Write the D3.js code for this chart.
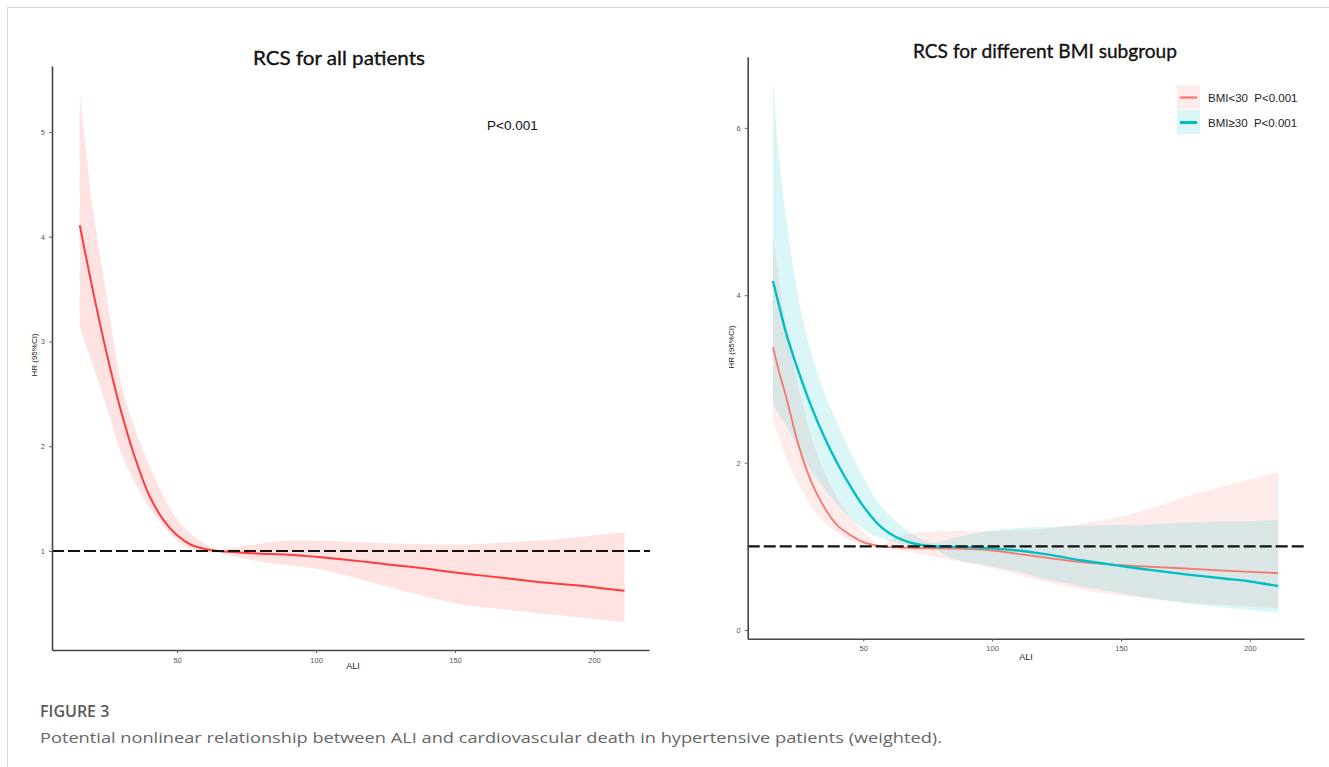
<!DOCTYPE html>
<html>
<head>
<meta charset="utf-8">
<script src="https://cdn.jsdelivr.net/npm/d3@7"></script>
<style>
  html, body { margin: 0; padding: 0; background: #ffffff; }
  svg { display: block; }
</style>
</head>
<body>
<div id="chart"></div>
<script>
// --- データ: 全患者 ---
const aliAll = [15, 20, 25, 30, 35, 40, 45, 50, 55, 60, 65, 70, 80, 90, 100, 110, 120, 130, 140, 150, 160, 170, 180, 190, 200, 211];
const hrAll  = [4.11, 3.45, 2.85, 2.32, 1.88, 1.53, 1.30, 1.15, 1.06, 1.02, 1.00, 0.99, 0.975, 0.965, 0.945, 0.92, 0.89, 0.86, 0.83, 0.795, 0.765, 0.735, 0.705, 0.68, 0.655, 0.62];
const upAll  = [5.38, 4.22, 3.38, 2.58, 2.15, 1.82, 1.53, 1.30, 1.16, 1.07, 1.01, 1.03, 1.07, 1.10, 1.10, 1.09, 1.08, 1.07, 1.065, 1.06, 1.07, 1.085, 1.10, 1.12, 1.15, 1.18];
const lowAll = [3.14, 2.75, 2.35, 1.93, 1.64, 1.42, 1.24, 1.10, 1.02, 0.99, 0.985, 0.95, 0.90, 0.865, 0.83, 0.77, 0.70, 0.63, 0.56, 0.50, 0.465, 0.435, 0.405, 0.38, 0.35, 0.32];

// --- データ: BMIサブグループ ---
const aliSub = [15, 17.5, 20, 25, 30, 35, 40, 45, 50, 55, 57, 60, 65, 70, 77, 85, 100, 110, 122, 135, 150, 162, 175, 190, 200, 211];
const hrLow  = [3.38, 3.07, 2.80, 2.20, 1.76, 1.46, 1.25, 1.135, 1.05, 1.01, 1.0, 0.99, 0.985, 0.98, 0.976, 0.972, 0.95, 0.91, 0.86, 0.81, 0.775, 0.755, 0.735, 0.71, 0.695, 0.68];
const upLow  = [4.70, 4.15, 3.65, 2.90, 2.30, 1.88, 1.58, 1.35, 1.17, 1.04, 1.0, 1.07, 1.13, 1.16, 1.175, 1.185, 1.18, 1.19, 1.215, 1.27, 1.355, 1.46, 1.59, 1.72, 1.80, 1.89];
const lowLow = [2.51, 2.28, 2.07, 1.74, 1.47, 1.28, 1.16, 1.07, 1.02, 1.0, 0.995, 0.98, 0.955, 0.92, 0.88, 0.83, 0.74, 0.66, 0.57, 0.48, 0.41, 0.37, 0.33, 0.30, 0.28, 0.26];
const hrHigh  = [4.17, 3.86, 3.56, 3.08, 2.66, 2.30, 1.99, 1.72, 1.48, 1.29, 1.23, 1.16, 1.08, 1.03, 1.0, 0.993, 0.975, 0.95, 0.90, 0.83, 0.765, 0.715, 0.665, 0.615, 0.58, 0.525];
const upHigh  = [6.57, 5.60, 4.95, 3.95, 3.30, 2.83, 2.47, 2.14, 1.83, 1.56, 1.48, 1.38, 1.24, 1.13, 1.04, 1.10, 1.19, 1.22, 1.23, 1.245, 1.255, 1.265, 1.28, 1.295, 1.30, 1.31];
const lowHigh = [2.69, 2.57, 2.45, 2.17, 1.90, 1.68, 1.50, 1.34, 1.21, 1.12, 1.10, 1.065, 1.025, 1.0, 0.975, 0.855, 0.76, 0.70, 0.60, 0.52, 0.44, 0.38, 0.32, 0.27, 0.24, 0.205];

// --- 目盛り ---
const xTicks = [50, 100, 150, 200];
const yTicksAll = [1, 2, 3, 4, 5];
const yTicksSub = [0, 2, 4, 6];
const legendLabels = ["BMI<30  P<0.001", "BMI\u226530  P<0.001"];

const W = 1329, H = 767;
const axisFont = "'Liberation Sans', Arial, sans-serif";
const titleFont = "Lato, 'Open Sans', sans-serif";
const smooth = d3.curveCatmullRom.alpha(0.5);

const svg = d3.select("#chart").append("svg").attr("width", W).attr("height", H);

// 外枠
svg.append("line").attr("x1", 7).attr("y1", 7.5).attr("x2", W).attr("y2", 7.5).attr("stroke", "#d9d9d9");
svg.append("line").attr("x1", 7.5).attr("y1", 7).attr("x2", 7.5).attr("y2", H).attr("stroke", "#d9d9d9");

function rows(xs, mid, lo, hi) {
  return xs.map((a, i) => ({ a: a, m: mid[i], lo: lo[i], hi: hi[i] }));
}

function drawPanel(p) {
  const g = svg.append("g");
  const x = d3.scaleLinear().domain(p.xDomain).range(p.xRange);
  const y = d3.scaleLinear().domain(p.yDomain).range(p.yRange);

  // リボン
  p.series.forEach(s => {
    const area = d3.area().curve(smooth)
      .x(d => x(d.a)).y0(d => y(d.lo)).y1(d => y(d.hi));
    g.append("path").datum(s.data).attr("d", area)
      .attr("fill", s.fill).attr("fill-opacity", s.fillOpacity);
  });
  // 推定線
  p.series.forEach(s => {
    const line = d3.line().curve(smooth).x(d => x(d.a)).y(d => y(d.m));
    g.append("path").datum(s.data).attr("d", line)
      .attr("fill", "none").attr("stroke", s.color).attr("stroke-width", s.width);
  });

  // HR=1 の参照線
  g.append("line")
    .attr("x1", p.xRange[0]).attr("x2", p.xRange[1] + 1)
    .attr("y1", y(1)).attr("y2", y(1))
    .attr("stroke", "#111").attr("stroke-width", 2.2).attr("stroke-dasharray", "12,4");

  // 軸
  const xAxis = g.append("g").attr("transform", `translate(0,${p.yRange[0]})`)
    .call(d3.axisBottom(x).tickValues(xTicks).tickFormat(d3.format("d")).tickSize(3).tickSizeOuter(0));
  const yAxis = g.append("g").attr("transform", `translate(${p.xRange[0]},0)`)
    .call(d3.axisLeft(y).tickValues(p.yTicks).tickFormat(d3.format("d")).tickSize(3).tickSizeOuter(0));
  [xAxis, yAxis].forEach(ax => {
    ax.select(".domain").attr("stroke", "#444").attr("stroke-width", 1.6);
    ax.selectAll(".tick line").attr("stroke", "#666");
    ax.selectAll(".tick text").attr("fill", "#555").style("font-size", "7.5px").style("font-family", axisFont);
  });
  xAxis.selectAll(".tick text").attr("dy", "0.9em");
  yAxis.selectAll(".tick text").attr("dx", "-1px");

  // 軸タイトル
  g.append("text").attr("x", p.xLabel[0]).attr("y", p.xLabel[1]).attr("text-anchor", "middle")
    .style("font-family", axisFont).style("font-size", "9px").attr("fill", "#222").text("ALI");
  g.append("text").attr("transform", `translate(${p.yLabel[0]},${p.yLabel[1]}) rotate(-90)`)
    .attr("text-anchor", "middle")
    .style("font-family", axisFont).style("font-size", "8px").attr("fill", "#222").text("HR (95%CI)");

  // タイトル
  g.append("text").attr("x", p.title.x).attr("y", p.title.y)
    .attr("textLength", p.title.w).attr("lengthAdjust", "spacingAndGlyphs")
    .style("font-family", titleFont).style("font-size", "20px").attr("fill", "#111")
    .attr("stroke", "#111").attr("stroke-width", 0.35)
    .text(p.title.text);
  return { g: g, x: x, y: y };
}

// --- 左パネル ---
const left = drawPanel({
  xDomain: [5, 219.8], xRange: [52, 649],
  yDomain: [0.055, 5.63], yRange: [650, 66],
  yTicks: yTicksAll,
  xLabel: [353, 669], yLabel: [37, 355],
  title: { x: 253, y: 65, w: 172, text: "RCS for all patients" },
  series: [{ data: rows(aliAll, hrAll, lowAll, upAll), color: "#ff3b3b", width: 2, fill: "#ff2a2a", fillOpacity: 0.13 }]
});
left.g.append("text").attr("x", 487).attr("y", 130)
  .style("font-family", axisFont).style("font-size", "13.5px").attr("fill", "#111").text("P<0.001");

// --- 右パネル ---
const pink = "#f8766d", cyan = "#00bfc4";
const right = drawPanel({
  xDomain: [5.2, 221], xRange: [747.7, 1304],
  yDomain: [-0.104, 6.85], yRange: [638.7, 56.7],
  yTicks: yTicksSub,
  xLabel: [1026, 660], yLabel: [734, 347],
  title: { x: 913, y: 58, w: 264, text: "RCS for different BMI subgroup" },
  series: [
    { data: rows(aliSub, hrLow, lowLow, upLow), color: pink, width: 1.8, fill: pink, fillOpacity: 0.14 },
    { data: rows(aliSub, hrHigh, lowHigh, upHigh), color: cyan, width: 2.4, fill: cyan, fillOpacity: 0.14 }
  ]
});

// 凡例
const legend = svg.append("g").attr("transform", "translate(1177,85)");
[{ c: pink, w: 2.2 }, { c: cyan, w: 3 }].forEach((k, i) => {
  const row = legend.append("g").attr("transform", `translate(0,${i * 25})`);
  row.append("rect").attr("width", 23).attr("height", 24).attr("fill", k.c).attr("fill-opacity", 0.14);
  row.append("line").attr("x1", 3).attr("x2", 20).attr("y1", 12.5).attr("y2", 12.5)
    .attr("stroke", k.c).attr("stroke-width", k.w);
  row.append("text").attr("x", 31).attr("y", 16.5)
    .style("font-family", axisFont).style("font-size", "11.5px").style("white-space", "pre")
    .attr("fill", "#222")
    .text(legendLabels[i]);
});

// キャプション
svg.append("text").attr("x", 40).attr("y", 717)
  .style("font-family", "'Open Sans', sans-serif").style("font-size", "16px").style("font-weight", 600)
  .attr("fill", "#595959").text("FIGURE 3");
svg.append("text").attr("x", 40).attr("y", 743)
  .attr("textLength", 902).attr("lengthAdjust", "spacingAndGlyphs")
  .style("font-family", "'Open Sans', sans-serif").style("font-size", "15px")
  .attr("fill", "#666").text("Potential nonlinear relationship between ALI and cardiovascular death in hypertensive patients (weighted).");
</script>
</body>
</html>
